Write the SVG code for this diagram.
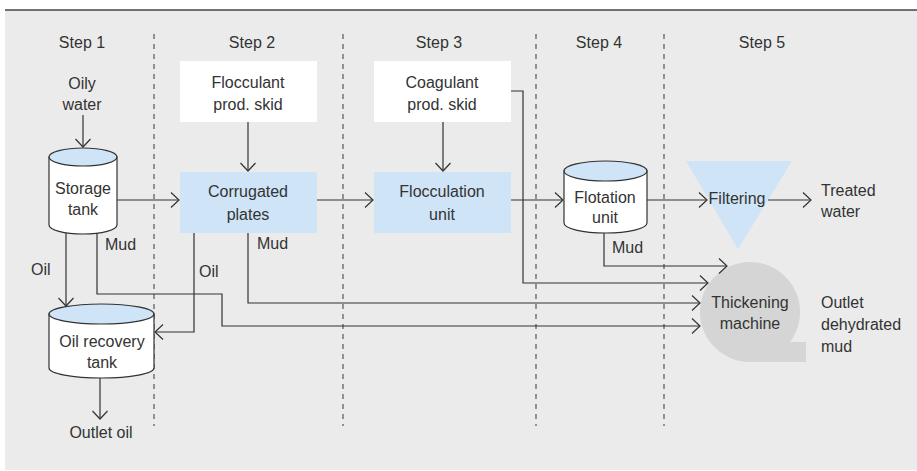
<svg xmlns="http://www.w3.org/2000/svg" width="917" height="471" viewBox="0 0 917 471">
<style>
text{font-family:"Liberation Sans",Arial,sans-serif;font-size:16px;fill:#333}
.c{text-anchor:middle}
.dash{stroke:#555;stroke-width:1.2;stroke-dasharray:5 5;fill:none}
.conn{stroke:#333;stroke-width:1.2;fill:none;marker-end:url(#ah)}
.blue{fill:#cfe4f7}
.tank{fill:#fff;stroke:#333;stroke-width:1.2}
.lid{fill:#cfe4f7;stroke:#333;stroke-width:1.2}
</style>
<defs>
<marker id="ah" viewBox="-10 -9 12 18" refX="0" refY="0" markerWidth="12" markerHeight="18" markerUnits="userSpaceOnUse" orient="auto">
<path d="M-8,-7.5 L0,0 L-8,7.5" fill="none" stroke="#333" stroke-width="1.2"/>
</marker>
</defs>
<rect x="5" y="10" width="912" height="460" fill="#ebebeb"/>
<line x1="5" y1="10" x2="917" y2="10" stroke="#444" stroke-width="1.5"/>
<g id="separators">
<line class="dash" x1="154" y1="34" x2="154" y2="426"/>
<line class="dash" x1="343" y1="34" x2="343" y2="426"/>
<line class="dash" x1="536" y1="34" x2="536" y2="426"/>
<line class="dash" x1="664" y1="34" x2="664" y2="426"/>
</g>
<g id="steps">
<text class="c" x="82" y="48">Step 1</text>
<text class="c" x="252" y="48">Step 2</text>
<text class="c" x="439" y="48">Step 3</text>
<text class="c" x="599" y="48">Step 4</text>
<text class="c" x="762" y="48">Step 5</text>
</g>
<g id="oily-water"><text class="c" x="82" y="89">Oily</text><text class="c" x="82" y="110">water</text></g>
<g id="flocculant-skid"><rect x="180" y="61" width="137" height="61" fill="#fff"/><text class="c" x="248" y="88">Flocculant</text><text class="c" x="248" y="110">prod. skid</text></g>
<g id="coagulant-skid"><rect x="374" y="61" width="137" height="61" fill="#fff"/><text class="c" x="442" y="88">Coagulant</text><text class="c" x="442" y="110">prod. skid</text></g>
<g id="storage-tank">
<path class="tank" d="M49,157 V225 A34,9 0 0 0 117,225 V157 Z"/>
<ellipse class="lid" cx="83" cy="157" rx="34" ry="9"/>
<text class="c" x="83" y="194">Storage</text><text class="c" x="83" y="215">tank</text>
</g>
<g id="corrugated-plates"><rect class="blue" x="180" y="172" width="137" height="61"/><text class="c" x="248" y="197">Corrugated</text><text class="c" x="248" y="220">plates</text></g>
<g id="flocculation-unit"><rect class="blue" x="374" y="172" width="137" height="61"/><text class="c" x="442" y="197">Flocculation</text><text class="c" x="442" y="220">unit</text></g>
<g id="flotation-unit">
<path class="tank" d="M564,171 V223 A41.5,10 0 0 0 647,223 V171 Z"/>
<ellipse class="lid" cx="605.5" cy="171" rx="41.5" ry="10"/>
<text class="c" x="605" y="203">Flotation</text><text class="c" x="605" y="223">unit</text>
</g>
<g id="filtering"><path class="blue" d="M686,161 H792 L738,249 Z"/><text class="c" x="737" y="204">Filtering</text></g>
<g id="treated-water"><text x="821" y="196">Treated</text><text x="821" y="217">water</text></g>
<g id="thickening-machine">
<circle cx="750" cy="312" r="50" fill="#d5d5d5"/>
<rect x="750" y="342" width="56" height="20" fill="#d5d5d5"/>
<text class="c" x="750" y="308">Thickening</text><text class="c" x="750" y="329">machine</text>
</g>
<g id="outlet-mud"><text x="821" y="308">Outlet</text><text x="821" y="330">dehydrated</text><text x="821" y="352">mud</text></g>
<g id="oil-recovery-tank">
<path class="tank" d="M49,314 V368 A52.5,10 0 0 0 154,368 V314 Z"/>
<ellipse class="lid" cx="101.5" cy="314" rx="52.5" ry="10"/>
<text class="c" x="102" y="347">Oil recovery</text><text class="c" x="102" y="368">tank</text>
</g>
<g id="outlet-oil"><text class="c" x="101" y="438">Outlet oil</text></g>
<g id="connectors">
<path class="conn" d="M83,115 V147"/>
<path class="conn" d="M248,122 V171"/>
<path class="conn" d="M443,122 V171"/>
<path class="conn" d="M117,200 H179"/>
<path class="conn" d="M317,200 H373"/>
<path class="conn" d="M511,200 H563"/>
<path class="conn" d="M647,200 H707"/>
<path class="conn" d="M768,200 H811"/>
<path class="conn" d="M66,233 V306"/>
<path class="conn" d="M194,233 V332 H155"/>
<path class="conn" d="M97,233 V294 H222 V326 H700"/>
<path class="conn" d="M248,233 V303 H700"/>
<path class="conn" d="M511,91 H523 V283 H708"/>
<path class="conn" d="M604,233 V266 H727"/>
<path class="conn" d="M100,378 V419"/>
</g>
<g id="labels">
<text x="105" y="250">Mud</text>
<text x="31" y="275">Oil</text>
<text x="257" y="249">Mud</text>
<text x="199" y="277">Oil</text>
<text x="612" y="253">Mud</text>
</g>
</svg>
